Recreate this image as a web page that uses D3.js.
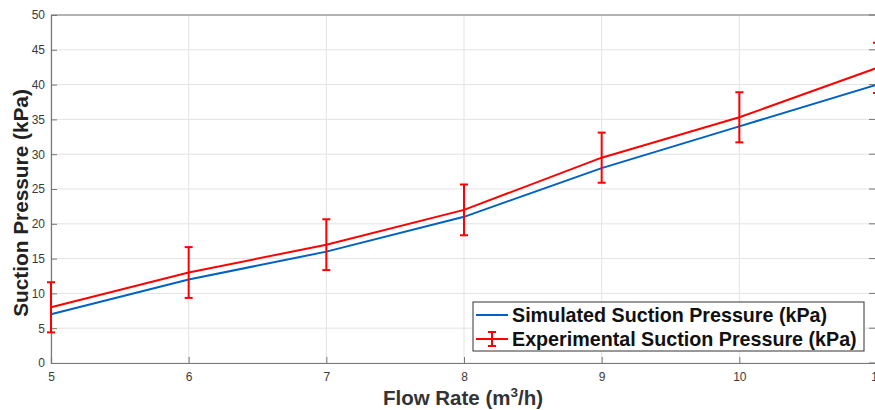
<!DOCTYPE html>
<html>
<head>
<meta charset="utf-8">
<script src="https://cdn.jsdelivr.net/npm/d3@7"></script>
<style>
  body { margin: 0; background: #fff; }
  svg { display: block; font-family: Arial, "Liberation Sans", sans-serif; }
</style>
</head>
<body>
<div id="chart"></div>
<script>
const flowRate = [5, 6, 7, 8, 9, 10, 11];
const simulated = [7, 12, 16, 21, 28, 34, 40];
const experimental = [8, 13, 17, 22, 29.5, 35.3, 42.4];
const expError = [3.6, 3.65, 3.65, 3.65, 3.6, 3.6, 3.6];
const xTicks = [5, 6, 7, 8, 9, 10, 11];
const yTicks = [0, 5, 10, 15, 20, 25, 30, 35, 40, 45, 50];

const width = 875, height = 410;
const margin = { top: 15, right: -2, bottom: 47, left: 51 };
const innerW = width - margin.left - margin.right;
const innerH = height - margin.top - margin.bottom;

const svg = d3.select('#chart').append('svg')
  .attr('width', width)
  .attr('height', height);

const g = svg.append('g')
  .attr('transform', `translate(${margin.left},${margin.top})`);

const x = d3.scaleLinear().domain([5, 11]).range([0, innerW]);
const y = d3.scaleLinear().domain([0, 50]).range([innerH, 0]);

// grid
g.append('g')
  .selectAll('line')
  .data(yTicks)
  .join('line')
    .attr('x1', 0).attr('x2', innerW)
    .attr('y1', d => y(d)).attr('y2', d => y(d))
    .attr('stroke', '#e3e3e3').attr('stroke-width', 1);
g.append('g')
  .selectAll('line')
  .data(xTicks)
  .join('line')
    .attr('x1', d => x(d)).attr('x2', d => x(d))
    .attr('y1', 0).attr('y2', innerH)
    .attr('stroke', '#e3e3e3').attr('stroke-width', 1);

// axes (ticks point inward, matlab style)
const xAxis = g.append('g')
  .attr('transform', `translate(0,${innerH})`)
  .call(d3.axisBottom(x).tickValues(xTicks).tickSize(-6).tickPadding(9).tickFormat(d3.format('d')));
const yAxis = g.append('g')
  .call(d3.axisLeft(y).tickValues(yTicks).tickSize(-6).tickPadding(6));

[xAxis, yAxis].forEach(a => {
  a.select('.domain').attr('stroke', '#777').attr('stroke-width', 1.2);
  a.selectAll('.tick line').attr('stroke', '#777');
  a.selectAll('.tick text').attr('fill', '#3a3a3a').style('font-size', '12px');
});

// right side ticks and top border
g.append('line')
  .attr('x1', 0).attr('x2', innerW).attr('y1', 0).attr('y2', 0)
  .attr('stroke', '#777').attr('stroke-width', 1.2);
g.append('g')
  .selectAll('line')
  .data(yTicks)
  .join('line')
    .attr('x1', innerW - 8).attr('x2', innerW)
    .attr('y1', d => y(d)).attr('y2', d => y(d))
    .attr('stroke', '#777');

const line = d3.line().x(d => x(d[0])).y(d => y(d[1]));

g.append('path')
  .datum(flowRate.map((f, i) => [f, simulated[i]]))
  .attr('d', line)
  .attr('fill', 'none')
  .attr('stroke', '#0061c2')
  .attr('stroke-width', 2);

g.append('path')
  .datum(flowRate.map((f, i) => [f, experimental[i]]))
  .attr('d', line)
  .attr('fill', 'none')
  .attr('stroke', '#ff0000')
  .attr('stroke-width', 2);

// error bars
const eb = g.append('g').attr('stroke', '#ff0000').attr('stroke-width', 2);
flowRate.forEach((f, i) => {
  const lo = experimental[i] - expError[i], hi = experimental[i] + expError[i];
  eb.append('line').attr('x1', x(f)).attr('x2', x(f)).attr('y1', y(lo)).attr('y2', y(hi));
  eb.append('line').attr('x1', x(f) - 4).attr('x2', x(f) + 4).attr('y1', y(lo)).attr('y2', y(lo));
  eb.append('line').attr('x1', x(f) - 4).attr('x2', x(f) + 4).attr('y1', y(hi)).attr('y2', y(hi));
});

// legend
const lg = svg.append('g').attr('transform', 'translate(473,302)');
lg.append('rect')
  .attr('width', 391).attr('height', 49)
  .attr('fill', '#fff').attr('stroke', '#333').attr('stroke-width', 1);
lg.append('line')
  .attr('x1', 3).attr('x2', 35).attr('y1', 13).attr('y2', 13)
  .attr('stroke', '#0061c2').attr('stroke-width', 2);
lg.append('line')
  .attr('x1', 3).attr('x2', 35).attr('y1', 37).attr('y2', 37)
  .attr('stroke', '#ff0000').attr('stroke-width', 2);
lg.append('line')
  .attr('x1', 19).attr('x2', 19).attr('y1', 30).attr('y2', 44)
  .attr('stroke', '#ff0000').attr('stroke-width', 2);
lg.append('line')
  .attr('x1', 15).attr('x2', 23).attr('y1', 30).attr('y2', 30)
  .attr('stroke', '#ff0000').attr('stroke-width', 2);
lg.append('line')
  .attr('x1', 15).attr('x2', 23).attr('y1', 44).attr('y2', 44)
  .attr('stroke', '#ff0000').attr('stroke-width', 2);
lg.append('text')
  .attr('x', 39).attr('y', 20)
  .style('font-size', '19.7px').style('font-weight', 'bold').attr('fill', '#111')
  .text('Simulated Suction Pressure (kPa)');
lg.append('text')
  .attr('x', 39).attr('y', 43.5)
  .style('font-size', '19.7px').style('font-weight', 'bold').attr('fill', '#111')
  .text('Experimental Suction Pressure (kPa)');

// axis titles
const xt = svg.append('text')
  .attr('x', 463).attr('y', 405)
  .attr('text-anchor', 'middle')
  .style('font-size', '20.5px').style('font-weight', 'bold').attr('fill', '#333');
xt.append('tspan').text('Flow Rate (m');
xt.append('tspan').attr('dy', -8).style('font-size', '13.5px').text('3');
xt.append('tspan').attr('dy', 8).text('/h)');

svg.append('text')
  .attr('transform', 'translate(28,203) rotate(-90)')
  .attr('text-anchor', 'middle')
  .style('font-size', '20.8px').style('font-weight', 'bold').attr('fill', '#222')
  .text('Suction Pressure (kPa)');
</script>
</body>
</html>
